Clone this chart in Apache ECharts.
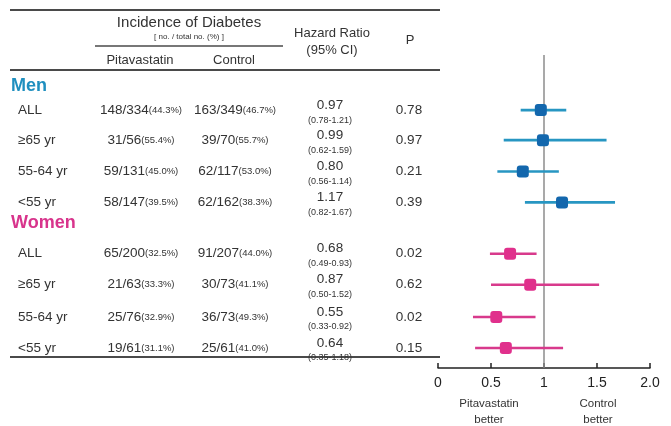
<!DOCTYPE html>
<html>
<head>
<meta charset="utf-8">
<script src="https://cdn.jsdelivr.net/npm/echarts@6/dist/echarts.min.js"></script>
<style>
  html, body { margin: 0; padding: 0; background: #fff; }
  #c { width: 671px; height: 426px; }
</style>
</head>
<body>
<div id="c"></div>
<script>
// Subgroup table data
const groups = ['Men', 'Women'];
const groupColors = ['#1f8fbf', '#d8348c'];
const lineColors = ['#2796c2', '#d83a8c'];
const markerColors = ['#1367ad', '#e0308c'];
const rowLabels = ['ALL', '≥65 yr', '55-64 yr', '<55 yr', 'ALL', '≥65 yr', '55-64 yr', '<55 yr'];
const rowGroup = [0, 0, 0, 0, 1, 1, 1, 1];
const pitaEvents = ['148/334', '31/56', '59/131', '58/147', '65/200', '21/63', '25/76', '19/61'];
const pitaPct = ['44.3%', '55.4%', '45.0%', '39.5%', '32.5%', '33.3%', '32.9%', '31.1%'];
const ctrlEvents = ['163/349', '39/70', '62/117', '62/162', '91/207', '30/73', '36/73', '25/61'];
const ctrlPct = ['46.7%', '55.7%', '53.0%', '38.3%', '44.0%', '41.1%', '49.3%', '41.0%'];
const hazardRatio = [0.97, 0.99, 0.80, 1.17, 0.68, 0.87, 0.55, 0.64];
const ciLow = [0.78, 0.62, 0.56, 0.82, 0.49, 0.50, 0.33, 0.35];
const ciHigh = [1.21, 1.59, 1.14, 1.67, 0.93, 1.52, 0.92, 1.18];
const pValues = ['0.78', '0.97', '0.21', '0.39', '0.02', '0.62', '0.02', '0.15'];
const xTickLabels = ['0', '0.5', '1', '1.5', '2.0'];

// Vertical layout of rows (in row units along the hidden y axis)
const rowPos = [1.76, 2.72, 3.72, 4.71, 6.35, 7.34, 8.37, 9.36];
const groupPos = [0.99, 5.38];

const FONT = '"Liberation Sans", Arial, Helvetica, sans-serif';
const TEXT = '#333';

const chart = echarts.init(document.getElementById('c'), null, { renderer: 'canvas' });

function groupRows(g) {
  return hazardRatio.map((v, i) => i).filter(i => rowGroup[i] === g);
}

const series = [];
groups.forEach((name, g) => {
  const idx = groupRows(g);
  series.push({
    name: name + ' CI',
    type: 'custom',
    silent: true,
    encode: { x: [2, 3], y: 1 },
    data: idx.map(i => [hazardRatio[i], rowPos[i], ciLow[i], ciHigh[i]]),
    renderItem: function (params, api) {
      const y = api.coord([0, api.value(1)])[1];
      const x1 = api.coord([api.value(2), api.value(1)])[0];
      const x2 = api.coord([api.value(3), api.value(1)])[0];
      return {
        type: 'line',
        shape: { x1: x1, y1: y, x2: x2, y2: y },
        style: { stroke: lineColors[g], lineWidth: 2.6 }
      };
    },
    z: 3
  });
  series.push({
    name: name,
    type: 'scatter',
    symbol: 'roundRect',
    symbolSize: 12,
    silent: true,
    itemStyle: { color: markerColors[g], opacity: 1 },
    data: idx.map(i => [hazardRatio[i], rowPos[i]]),
    z: 4
  });
});

// Line of no effect at HR = 1
series[0].markLine = {
  silent: true,
  symbol: 'none',
  label: { show: false },
  lineStyle: { color: '#8c8c8c', width: 1.5, type: 'solid' },
  data: [{ xAxis: 1 }],
  z: 1
};

chart.setOption({
  animation: false,
  backgroundColor: '#fff',
  grid: { left: 438, right: 21, top: 55, bottom: 58 },
  xAxis: {
    type: 'value',
    position: 'bottom',
    min: 0,
    max: 2,
    interval: 0.5,
    axisLine: { show: true, onZero: false, lineStyle: { color: '#222', width: 1.5 } },
    axisTick: { show: true, inside: true, length: 5, lineStyle: { color: '#222', width: 1.5 } },
    splitLine: { show: false },
    axisLabel: {
      color: '#222',
      fontFamily: FONT,
      fontSize: 14,
      margin: 8,
      formatter: v => xTickLabels[Math.round(v / 0.5)]
    }
  },
  yAxis: { type: 'value', min: 0, max: 10, inverse: true, show: false },
  series: series
});

// Table drawn as text elements aligned to the same row scale
function rowY(pos) {
  return chart.convertToPixel({ gridIndex: 0 }, [0, pos])[1];
}

const els = [];
function text(x, y, str, size, opts) {
  els.push({
    type: 'text',
    silent: true,
    style: Object.assign({
      x: x, y: y, text: str,
      font: (opts && opts.weight ? opts.weight + ' ' : '') + size + 'px ' + FONT,
      fill: TEXT,
      align: 'center',
      verticalAlign: 'middle'
    }, opts && opts.style)
  });
}
function hline(x1, x2, y, w) {
  els.push({
    type: 'line', silent: true,
    shape: { x1: x1, y1: y, x2: x2, y2: y },
    style: { stroke: '#4a4a4a', lineWidth: w }
  });
}

// Header rules and titles
hline(10, 440, 10, 2);
hline(95, 283, 46, 1.5);
hline(10, 440, 70, 2);
hline(10, 440, 357, 2);
text(189, 23, 'Incidence of Diabetes', 15);
text(189, 37, '[ no. / total no. (%) ]', 8);
text(140, 60, 'Pitavastatin', 13);
text(234, 60, 'Control', 13);
text(332, 33, 'Hazard Ratio', 13);
text(332, 50, '(95% CI)', 13);
text(410, 40, 'P', 13);

groups.forEach((name, g) => {
  text(11, rowY(groupPos[g]), name, 18, {
    weight: 'bold',
    style: { align: 'left', fill: groupColors[g] }
  });
});

const rich = {
  n: { fontSize: 13.5, fontFamily: FONT, fill: TEXT, color: TEXT },
  p: { fontSize: 9.5, fontFamily: FONT, fill: TEXT, color: TEXT }
};
rowLabels.forEach((lab, i) => {
  const y = rowY(rowPos[i]);
  text(18, y, lab, 13.5, { style: { align: 'left' } });
  text(141, y, '{n|' + pitaEvents[i] + '}{p|(' + pitaPct[i] + ')}', 13, { style: { rich: rich } });
  text(235, y, '{n|' + ctrlEvents[i] + '}{p|(' + ctrlPct[i] + ')}', 13, { style: { rich: rich } });
  text(330, y - 5, hazardRatio[i].toFixed(2), 13.5);
  text(330, y + 10, '(' + ciLow[i].toFixed(2) + '-' + ciHigh[i].toFixed(2) + ')', 9);
  text(409, y, pValues[i], 13.5);
});

// Direction captions under the axis
text(489, 412, 'Pitavastatin\nbetter', 11.5, { style: { lineHeight: 16 } });
text(598, 412, 'Control\nbetter', 11.5, { style: { lineHeight: 16 } });

chart.setOption({ graphic: { elements: els } });
</script>
</body>
</html>
